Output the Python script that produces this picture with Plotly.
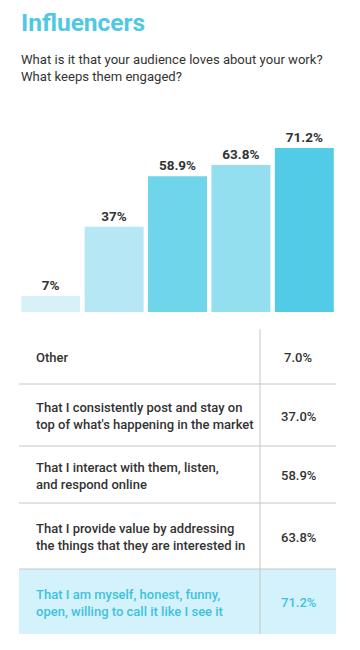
import plotly.graph_objects as go

W, H = 360, 650

categories = ["Other", "Consistent", "Interact", "Value", "Myself"]
values = [7.0, 37.0, 58.9, 63.8, 71.2]
bar_labels = ["7%", "37%", "58.9%", "63.8%", "71.2%"]
bar_colors = ["#d8f1f8", "#b5e7f4", "#6fd5ea", "#93dff0", "#52cbe6"]

row_texts = [
    "Other",
    "That I consistently post and stay on<br>top of what's happening in the market",
    "That I interact with them, listen,<br>and respond online",
    "That I provide value by addressing<br>the things that they are interested in",
    "That I am myself, honest, funny,<br>open, willing to call it like I see it",
]
row_values = ["7.0%", "37.0%", "58.9%", "63.8%", "71.2%"]

title = "Influencers"
subtitle = "What is it that your audience loves about your work?<br>What keeps them engaged?"

# layout geometry (pixels from top-left)
plot_left, plot_right = 19, 336
baseline_px = 312
px_per_unit = 164 / 71.2
y_max = 80
top_px = baseline_px - y_max * px_per_unit

row_edges = [329, 384, 446, 503, 569, 634]
divider_x = 260
highlight_row = 4

def px(x):
    return x / W

def py(y):
    return 1 - y / H

fig = go.Figure()
fig.add_trace(go.Bar(
    x=categories, y=values,
    marker=dict(color=bar_colors, line=dict(width=0)),
    text=bar_labels, textposition="outside",
    textfont=dict(family="Roboto", size=13.5, color="#333333", weight="bold"),
    cliponaxis=False, hoverinfo="skip",
))

shapes = []
annotations = []

# title and subtitle
annotations.append(dict(text=title, x=px(19), y=py(22), xref="paper", yref="paper",
                        xanchor="left", yanchor="middle", showarrow=False,
                        font=dict(family="Roboto", size=24.5, color="#4fc8e4", weight="bold")))
annotations.append(dict(text=subtitle, x=px(19), y=py(68), xref="paper", yref="paper",
                        xanchor="left", yanchor="middle", showarrow=False, align="left",
                        font=dict(family="Roboto", size=13.1, color="#333333")))

# table
hl = highlight_row
shapes.append(dict(type="rect", xref="paper", yref="paper",
                   x0=px(plot_left), x1=px(plot_right),
                   y0=py(row_edges[hl + 1]), y1=py(row_edges[hl]),
                   fillcolor="#d3f2fb", line=dict(width=0), layer="below"))
for e in row_edges[1:-1]:
    shapes.append(dict(type="line", xref="paper", yref="paper",
                       x0=px(plot_left), x1=px(plot_right), y0=py(e), y1=py(e),
                       line=dict(color="#c6c6c6", width=1)))
shapes.append(dict(type="line", xref="paper", yref="paper",
                   x0=px(divider_x), x1=px(divider_x),
                   y0=py(row_edges[0]), y1=py(row_edges[-1]),
                   line=dict(color="#c6c6c6", width=1)))

for i, (t, v) in enumerate(zip(row_texts, row_values)):
    yc = (row_edges[i] + row_edges[i + 1]) / 2 + 1
    col = "#3fc2de" if i == hl else "#333333"
    annotations.append(dict(text=t, x=px(34), y=py(yc), xref="paper", yref="paper",
                            xanchor="left", yanchor="middle", showarrow=False, align="left",
                            font=dict(family="Roboto", size=13, color=col, weight=500)))
    annotations.append(dict(text=v, x=px(298), y=py(yc), xref="paper", yref="paper",
                            xanchor="center", yanchor="middle", showarrow=False,
                            font=dict(family="Roboto", size=13, color=col, weight=500)))

fig.update_layout(
    width=W, height=H, margin=dict(l=0, r=0, t=0, b=0),
    paper_bgcolor="white", plot_bgcolor="white",
    showlegend=False, bargap=0.07,
    xaxis=dict(domain=[px(plot_left), px(plot_right)], visible=False, fixedrange=True),
    yaxis=dict(domain=[py(baseline_px), py(top_px)], range=[0, y_max], visible=False, fixedrange=True),
    shapes=shapes, annotations=annotations,
)

fig.write_html("out.html", config={"displayModeBar": False},
               post_script="document.body.style.margin='0';document.body.style.overflow='hidden';")
